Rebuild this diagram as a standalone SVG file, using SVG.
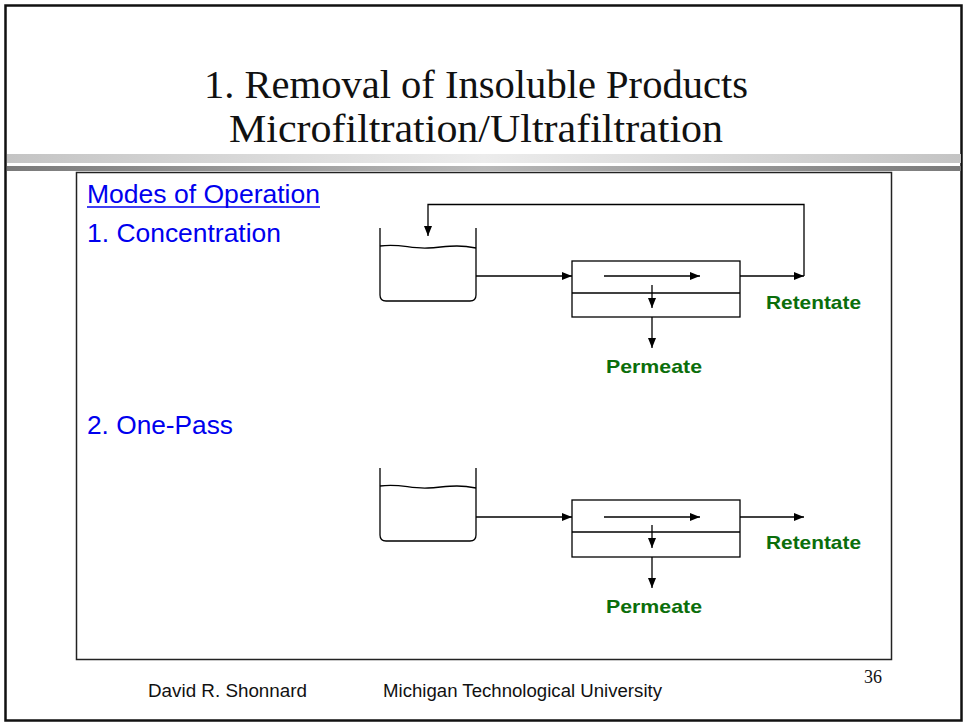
<svg xmlns="http://www.w3.org/2000/svg" width="965" height="724" viewBox="0 0 965 724">
<defs>
<linearGradient id="gl" x1="0" x2="1" y1="0" y2="0">
<stop offset="0" stop-color="#c4c4c4"/><stop offset="0.5" stop-color="#ececec"/><stop offset="1" stop-color="#c4c4c4"/>
</linearGradient>
<linearGradient id="gd" x1="0" x2="1" y1="0" y2="0">
<stop offset="0" stop-color="#7a7a7a"/><stop offset="0.5" stop-color="#b8b8b8"/><stop offset="1" stop-color="#7a7a7a"/>
</linearGradient>
<marker id="ah" markerWidth="10" markerHeight="8" refX="10" refY="4" orient="auto" markerUnits="userSpaceOnUse">
<path d="M0,0 L10,4 L0,8 Z" fill="#000"/>
</marker>
<style>
.title{font-family:"Liberation Serif","DejaVu Serif",serif;font-size:39px;fill:#111}
.blue{font-family:"Liberation Sans",Arial,sans-serif;font-size:26px;fill:#0000ee}
.green{font-family:"Liberation Sans",Arial,sans-serif;font-size:19px;font-weight:bold;fill:#0b6e0b}
.foot{font-family:"Liberation Sans",Arial,sans-serif;font-size:17.5px;fill:#111}
.ln{fill:none;stroke:#000;stroke-width:1.3}
.arr{fill:none;stroke:#000;stroke-width:1.3;marker-end:url(#ah)}
</style>
</defs>
<rect x="0" y="0" width="965" height="724" fill="#fff"/>
<rect x="5.5" y="5.5" width="956" height="715" fill="none" stroke="#111" stroke-width="2.5"/>
<rect x="7" y="154" width="954" height="9" fill="url(#gl)"/>
<rect x="7" y="166" width="954" height="5" fill="url(#gd)"/>
<text class="title" x="204" y="98" textLength="544" lengthAdjust="spacingAndGlyphs">1. Removal of Insoluble Products</text>
<text class="title" x="229" y="142" textLength="494" lengthAdjust="spacingAndGlyphs">Microfiltration/Ultrafiltration</text>
<rect x="76.5" y="172.5" width="815" height="487" fill="none" stroke="#222" stroke-width="1.5"/>
<text class="blue" x="87" y="203" textLength="233" lengthAdjust="spacingAndGlyphs">Modes of Operation</text>
<line x1="87" y1="207" x2="320" y2="207" stroke="#0000ee" stroke-width="1.5"/>
<text class="blue" x="87" y="242" textLength="194" lengthAdjust="spacingAndGlyphs">1. Concentration</text>
<text class="blue" x="87" y="434" textLength="146" lengthAdjust="spacingAndGlyphs">2. One-Pass</text>

<g id="tank1">
<path class="ln" d="M380,228 V295 Q380,301 386,301 H470 Q476,301 476,295 V228"/>
<path class="ln" d="M380,246 C400,243 410,249 428,248 C446,247 456,244 476,248"/>
</g>
<g id="filter1">
<rect class="ln" x="572" y="261" width="168" height="56"/>
<line class="ln" x1="572" y1="293" x2="740" y2="293"/>
<line class="arr" x1="604" y1="276" x2="700" y2="276"/>
<line class="arr" x1="652" y1="285" x2="652" y2="308"/>
</g>
<g id="tank2">
<path class="ln" d="M380,468 V535 Q380,541 386,541 H470 Q476,541 476,535 V468"/>
<path class="ln" d="M380,486 C400,483 410,489 428,488 C446,487 456,484 476,488"/>
</g>
<g id="filter2">
<rect class="ln" x="572" y="500" width="168" height="57"/>
<line class="ln" x1="572" y1="532" x2="740" y2="532"/>
<line class="arr" x1="604" y1="517" x2="700" y2="517"/>
<line class="arr" x1="652" y1="525" x2="652" y2="548"/>
</g>
<g id="connectors">
<line class="arr" x1="476" y1="276" x2="572" y2="276"/>
<line class="arr" x1="740" y1="276" x2="804" y2="276"/>
<polyline class="arr" points="804,276 804,204.5 428,204.5 428,236"/>
<line class="arr" x1="652" y1="317" x2="652" y2="348"/>
<line class="arr" x1="476" y1="517" x2="572" y2="517"/>
<line class="arr" x1="740" y1="517" x2="804" y2="517"/>
<line class="arr" x1="652" y1="557" x2="652" y2="588"/>
</g>
<text class="green" x="606" y="373" textLength="96" lengthAdjust="spacingAndGlyphs">Permeate</text>
<text class="green" x="766" y="309" textLength="95" lengthAdjust="spacingAndGlyphs">Retentate</text>
<text class="green" x="606" y="613" textLength="96" lengthAdjust="spacingAndGlyphs">Permeate</text>
<text class="green" x="766" y="549" textLength="95" lengthAdjust="spacingAndGlyphs">Retentate</text>
<text class="foot" x="148" y="697" textLength="159" lengthAdjust="spacingAndGlyphs">David R. Shonnard</text>
<text class="foot" x="383" y="697" textLength="279" lengthAdjust="spacingAndGlyphs">Michigan Technological University</text>
<text x="864" y="683" style="font-family:'Liberation Serif',serif;font-size:18px;fill:#111">36</text>
</svg>
